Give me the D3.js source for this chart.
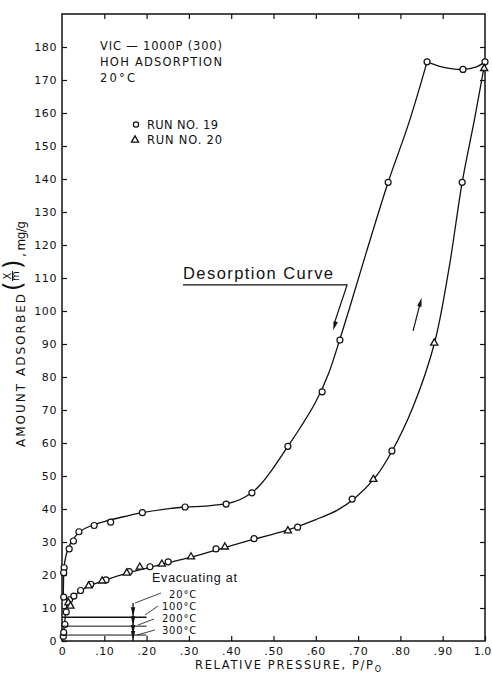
<!DOCTYPE html>
<html>
<head>
<meta charset="utf-8">
<script src="https://cdn.jsdelivr.net/npm/d3@7/dist/d3.min.js"></script>
<style>
  body { margin: 0; background: #fff; }
  svg { display: block; }
  text { font-family: "DejaVu Sans", sans-serif; fill: #111; }
</style>
</head>
<body>
<svg id="chart" width="492" height="678"></svg>
<script>
// run no. 19 (circles), adsorption branch
const run19Ads = [
  [0.003, 1.4], [0.004, 2.6], [0.007, 5.0], [0.01, 8.8], [0.004, 13.3],
  [0.018, 12.5], [0.028, 13.6], [0.044, 15.3], [0.068, 17.2], [0.104, 18.5],
  [0.159, 21.0], [0.208, 22.5], [0.251, 24.0], [0.364, 27.9], [0.454, 31.0],
  [0.557, 34.5], [0.686, 43.0], [0.78, 57.6], [0.946, 139], [1.0, 175.5]
];
// run no. 19 (circles), desorption branch
const run19Des = [
  [0.863, 175.5], [0.948, 173.2], [0.771, 139], [0.657, 91.2], [0.615, 75.5],
  [0.534, 59.0], [0.449, 44.9], [0.388, 41.5], [0.291, 40.6], [0.19, 38.9],
  [0.115, 36.0], [0.076, 35.0], [0.04, 33.1], [0.027, 30.3], [0.017, 27.9],
  [0.005, 22.2], [0.004, 20.7]
];
// run no. 20 (triangles)
const run20 = [
  [0.015, 11.6], [0.02, 10.6], [0.063, 16.7], [0.095, 18.2], [0.153, 20.6],
  [0.184, 22.4], [0.236, 23.3], [0.305, 25.5], [0.385, 28.5], [0.534, 33.4],
  [0.736, 49.0], [0.88, 90.3], [0.998, 173.5]
];

// drawn curves
const adsCurve = [
  [0.002, 0], [0.003, 2], [0.006, 5], [0.009, 9], [0.013, 11.5], [0.02, 12.6],
  [0.03, 13.8], [0.045, 15.3], [0.07, 17.0], [0.1, 18.4], [0.16, 20.8],
  [0.21, 22.4], [0.26, 24.0], [0.31, 25.6], [0.37, 27.8], [0.45, 30.7],
  [0.53, 33.5], [0.6, 36.8], [0.65, 39.6], [0.69, 43.0], [0.74, 49.5],
  [0.78, 57.5], [0.83, 71], [0.88, 90], [0.915, 113], [0.946, 139],
  [0.975, 158], [1.0, 175.5]
];
const desCurve = [
  [0.863, 175.5], [0.82, 157], [0.771, 139], [0.72, 118], [0.68, 101],
  [0.657, 91.5], [0.63, 81], [0.6, 72.5], [0.565, 65], [0.534, 59],
  [0.5, 52.5], [0.47, 47.5], [0.449, 45], [0.42, 42.8], [0.39, 41.6],
  [0.34, 40.9], [0.29, 40.6], [0.24, 39.9], [0.19, 38.9], [0.14, 37.5],
  [0.1, 36.2], [0.07, 35.0], [0.045, 33.4], [0.03, 31.5], [0.02, 29.5],
  [0.013, 27.5], [0.008, 25], [0.005, 22.5], [0.004, 20], [0.003, 13.3]
];
const desTop = [[0.863, 175.5], [0.9, 173.9], [0.948, 173.2], [0.98, 174], [1.0, 175.5]];

// evacuating levels
const evacLevels = [7.2, 4.5, 1.8];
const evacTemps = ["20°C", "100°C", "200°C", "300°C"];

const xTicks = [0, 0.1, 0.2, 0.3, 0.4, 0.5, 0.6, 0.7, 0.8, 0.9, 1.0];
const xTickLabels = ["0", ".10", ".20", ".30", ".40", ".50", ".60", ".70", ".80", ".90", "1.0"];
const yTicks = [0, 10, 20, 30, 40, 50, 60, 70, 80, 90, 100, 110, 120, 130, 140, 150, 160, 170, 180];

var svg = d3.select("#chart"),
  margin = { top: 14, right: 7, bottom: 37, left: 62 },
  width = +svg.attr("width") - margin.left - margin.right,
  height = +svg.attr("height") - margin.top - margin.bottom;

var x = d3.scaleLinear().domain([0, 1]).range([margin.left, margin.left + width]);
var y = d3.scaleLinear().domain([0, 190]).range([margin.top + height, margin.top]);

// axes, ticks pointing inward
var bottom = svg.append("g")
  .attr("transform", "translate(0," + y(0) + ")")
  .call(d3.axisBottom(x).tickValues(xTicks).tickSizeInner(-5).tickSizeOuter(0).tickPadding(6)
    .tickFormat(function(d, i) { return xTickLabels[i]; }))
  .call(styleAxis);
// keep "1.0" inside the page
bottom.selectAll(".tick:last-of-type text").attr("dx", -3).style("letter-spacing", "0px");

svg.append("g")
  .attr("transform", "translate(0," + y(190) + ")")
  .call(d3.axisTop(x).tickValues(xTicks.slice(1, -1)).tickSizeInner(-5).tickSizeOuter(0).tickFormat(""))
  .call(styleAxis);

svg.append("g")
  .attr("transform", "translate(" + x(0) + ",0)")
  .call(d3.axisLeft(y).tickValues(yTicks).tickSizeInner(-5).tickSizeOuter(0).tickPadding(5))
  .call(styleAxis);

svg.append("g")
  .attr("transform", "translate(" + x(1) + ",0)")
  .call(d3.axisRight(y).tickValues(yTicks.slice(1)).tickSizeInner(-5).tickSizeOuter(0).tickFormat(""))
  .call(styleAxis);

function styleAxis(g) {
  g.select(".domain").remove();
  g.selectAll("line").attr("stroke", "#111").attr("stroke-width", 1.2);
  g.selectAll("text")
    .attr("fill", "#111")
    .style("font-family", "'DejaVu Sans', sans-serif")
    .style("font-size", "11px")
    .style("letter-spacing", "0.6px");
}

// frame
svg.append("rect")
  .attr("x", x(0)).attr("y", y(190))
  .attr("width", x(1) - x(0)).attr("height", y(0) - y(190))
  .attr("fill", "none").attr("stroke", "#111").attr("stroke-width", 1.5);

// curves
var line = d3.line()
  .x(function(d) { return x(d[0]); })
  .y(function(d) { return y(d[1]); })
  .curve(d3.curveCatmullRom.alpha(0.5));

[adsCurve, desCurve, desTop].forEach(function(c) {
  svg.append("path").datum(c)
    .attr("d", line)
    .attr("fill", "none").attr("stroke", "#111").attr("stroke-width", 1.3);
});

// markers
svg.append("g").selectAll("circle")
  .data(run19Ads.concat(run19Des))
  .enter().append("circle")
  .attr("cx", function(d) { return x(d[0]); })
  .attr("cy", function(d) { return y(d[1]); })
  .attr("r", 3)
  .attr("fill", "#fff").attr("stroke", "#111").attr("stroke-width", 1.2);

var tri = d3.symbol().type(d3.symbolTriangle).size(22);
svg.append("g").selectAll("path")
  .data(run20)
  .enter().append("path")
  .attr("d", tri)
  .attr("transform", function(d) { return "translate(" + x(d[0]) + "," + y(d[1]) + ")"; })
  .attr("fill", "#fff").attr("stroke", "#111").attr("stroke-width", 1.3);

// title block
var info = [["VIC — 1000P (300)", 50, 122], ["HOH ADSORPTION", 65.7, 122], ["20°C", 82.3, 35]];
info.forEach(function(t) {
  svg.append("text").attr("x", 100).attr("y", t[1])
    .attr("textLength", t[2]).attr("lengthAdjust", "spacing")
    .style("font-size", "11.5px").text(t[0]);
});

// legend
svg.append("circle").attr("cx", 136).attr("cy", 124.5).attr("r", 2.6)
  .attr("fill", "#fff").attr("stroke", "#111").attr("stroke-width", 1.2);
svg.append("path").attr("d", tri).attr("transform", "translate(135,140)")
  .attr("fill", "#fff").attr("stroke", "#111").attr("stroke-width", 1.3);
svg.append("text").attr("x", 147).attr("y", 128.5).attr("textLength", 71).attr("lengthAdjust", "spacing")
  .style("font-size", "11.5px").text("RUN NO. 19");
svg.append("text").attr("x", 147).attr("y", 143.5).attr("textLength", 75).attr("lengthAdjust", "spacing")
  .style("font-size", "11.5px").text("RUN NO. 20");

// desorption label and arrow
svg.append("text").attr("x", 183).attr("y", 279)
  .attr("textLength", 150).attr("lengthAdjust", "spacing")
  .style("font-family", "'Liberation Sans', Arial, sans-serif")
  .style("font-size", "16.5px").text("Desorption Curve");
svg.append("path")
  .attr("d", "M" + x(0.286) + "," + y(107.9) + "H" + x(0.674) + "L" + x(0.643) + "," + y(96))
  .attr("fill", "none").attr("stroke", "#111").attr("stroke-width", 1.2);
arrowHead(x(0.674), y(107.9), x(0.641), y(94.2));

// adsorption arrow
svg.append("line").attr("x1", x(0.83)).attr("y1", y(94)).attr("x2", x(0.846)).attr("y2", y(102))
  .attr("stroke", "#111").attr("stroke-width", 1.2);
arrowHead(x(0.83), y(94), x(0.85), y(104));

function arrowHead(x1, y1, x2, y2) {
  var a = Math.atan2(y2 - y1, x2 - x1), len = 9, w = 2.2;
  var bx = x2 - len * Math.cos(a), by = y2 - len * Math.sin(a);
  var px = -Math.sin(a) * w, py = Math.cos(a) * w;
  svg.append("path")
    .attr("d", "M" + x2 + "," + y2 + "L" + (bx + px) + "," + (by + py) + "L" + (bx - px) + "," + (by - py) + "Z")
    .attr("fill", "#111");
}

// evacuating annotation
var ev = svg.append("g");
evacLevels.forEach(function(v, i) {
  ev.append("line").attr("x1", x(0)).attr("x2", x(0.2)).attr("y1", y(v)).attr("y2", y(v))
    .attr("stroke", "#111").attr("stroke-width", i === 0 ? 1.3 : 1);
});
ev.append("line").attr("x1", x(0.168)).attr("x2", x(0.168)).attr("y1", y(11.5)).attr("y2", y(0))
  .attr("stroke", "#111").attr("stroke-width", 1.3);
evacLevels.concat([0]).forEach(function(v) {
  arrowHead(x(0.168), y(v) - 6, x(0.168), y(v) - 1);
});
ev.append("text").attr("x", 152).attr("y", 582)
  .attr("textLength", 85).attr("lengthAdjust", "spacing")
  .style("font-family", "'Liberation Sans', Arial, sans-serif")
  .style("font-size", "12.5px").text("Evacuating at");
var leaders = [[135, 603, 161, 593], [145, 615, 158, 606], [138, 625, 154, 619], [137, 635, 155, 630]];
var baselines = [597.5, 609.5, 621.5, 633.5];
evacTemps.forEach(function(t, i) {
  var l = leaders[i];
  ev.append("line").attr("x1", l[0]).attr("y1", l[1]).attr("x2", l[2]).attr("y2", l[3])
    .attr("stroke", "#111").attr("stroke-width", 0.8);
  ev.append("text").attr("x", 197).attr("y", baselines[i]).attr("text-anchor", "end")
    .style("font-size", "10px").style("letter-spacing", "0.8px").text(t);
});

// x axis title
var xt = svg.append("text").attr("x", 195).attr("y", 669)
  .style("font-size", "11.5px");
xt.append("tspan").attr("textLength", 178).attr("lengthAdjust", "spacing").text("RELATIVE PRESSURE, P/P");
xt.append("tspan").attr("dy", 3).style("font-size", "8px").text("O");

// y axis title
var yt = svg.append("g").attr("transform", "translate(25,447) rotate(-90)");
yt.append("text").attr("x", 0).attr("y", 0)
  .attr("textLength", 153).attr("lengthAdjust", "spacing")
  .style("font-size", "12px").text("AMOUNT ADSORBED");
yt.append("text").attr("x", 156).attr("y", -4).style("font-size", "24px").text("(");
yt.append("text").attr("x", 171).attr("y", -14).attr("text-anchor", "middle").style("font-size", "10px").text("X");
yt.append("line").attr("x1", 166).attr("x2", 176).attr("y1", -12.5).attr("y2", -12.5)
  .attr("stroke", "#111").attr("stroke-width", 1);
yt.append("text").attr("x", 171).attr("y", -6).attr("text-anchor", "middle").style("font-size", "10px").text("m");
yt.append("text").attr("x", 178).attr("y", -4).style("font-size", "24px").text(")");
yt.append("text").attr("x", 190).attr("y", 0)
  .attr("textLength", 36).attr("lengthAdjust", "spacing")
  .style("font-size", "12px").text(", mg/g");
</script>
</body>
</html>
